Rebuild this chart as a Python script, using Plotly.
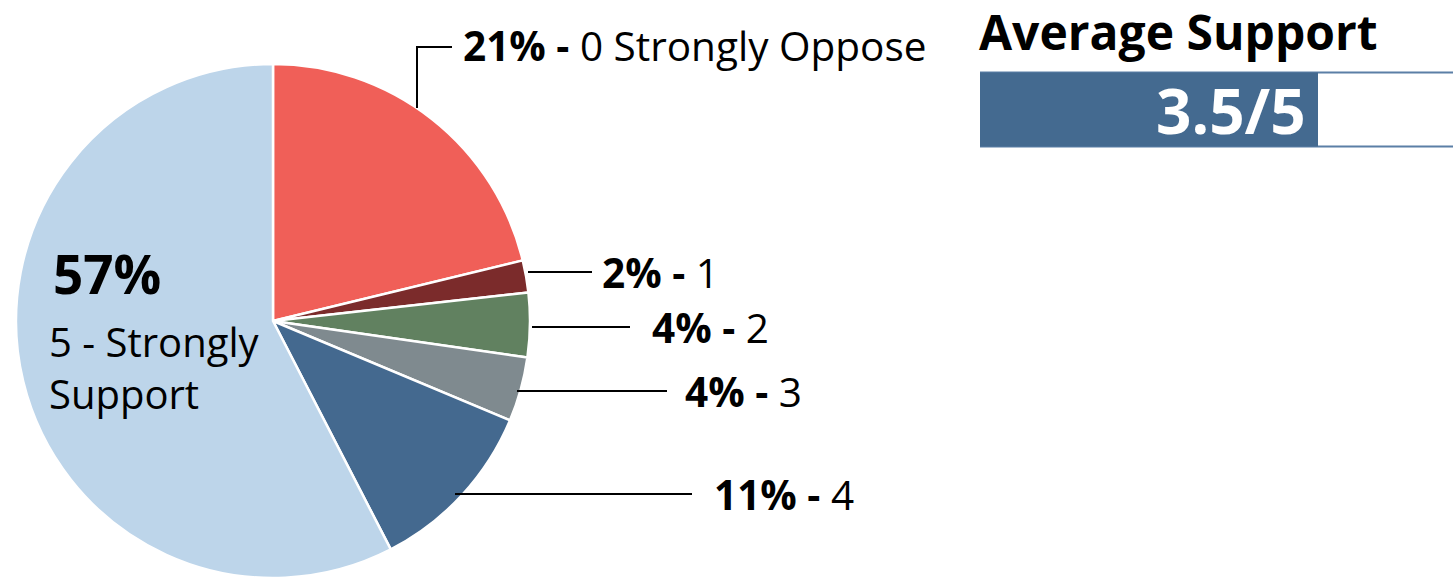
import plotly.graph_objects as go

# Survey responses on a 0-5 support scale
categories = ["0 Strongly Oppose", "1", "2", "3", "4", "5 - Strongly Support"]
shares = [21, 2, 4, 4, 11, 57]
slice_colors = ["#F05F58", "#7B2B2B", "#618160", "#7F8A8F", "#44698F", "#BDD5EA"]

avg_score = 3.5
max_score = 5
avg_title = "Average Support"

W, H = 1453, 579
FONT = "Open Sans"


def px(x):
    return x / W


def py(y):
    return 1 - y / H


fig = go.Figure()

# Pie, starting at 12 o'clock and running clockwise
fig.add_trace(go.Pie(
    labels=categories,
    values=shares,
    sort=False,
    direction="clockwise",
    rotation=0,
    marker=dict(colors=slice_colors, line=dict(color="white", width=2.5)),
    textinfo="none",
    hoverinfo="label+percent",
    domain=dict(x=[px(16), px(530)], y=[py(578), py(64)]),
    showlegend=False,
))

# Average score bar: white outlined track with the filled score on top
track_px_per_unit = (1318 - 980) / avg_score
fig.add_trace(go.Bar(
    x=[max_score], y=[0], orientation="h", width=1,
    marker=dict(color="white", line=dict(color="#5B7FA6", width=1.8)),
    xaxis="x", yaxis="y", hoverinfo="skip", showlegend=False,
))
fig.add_trace(go.Bar(
    x=[avg_score], y=[0], orientation="h", width=1,
    marker=dict(color="#446A90", line=dict(width=0)),
    xaxis="x", yaxis="y", hoverinfo="skip", showlegend=False,
))

annotations = []
shapes = []

# Outside labels with leader lines for the right-hand slices
label_pos = {
    0: dict(tx=461, ty=45),
    1: dict(tx=600, ty=272),
    2: dict(tx=650, ty=327),
    3: dict(tx=683, ty=391),
    4: dict(tx=712, ty=494),
}
leaders = {
    0: [(417, 108), (417, 47), (452, 47)],
    1: [(528, 272), (592, 272)],
    2: [(532, 327), (630, 327)],
    3: [(517, 391), (667, 391)],
    4: [(455, 494), (692, 494)],
}
for i, pos in label_pos.items():
    annotations.append(dict(
        x=px(pos["tx"]), y=py(pos["ty"]), xref="paper", yref="paper",
        xanchor="left", yanchor="middle", showarrow=False,
        text=f"<b>{shares[i]}% -</b> {categories[i]}",
        font=dict(family=FONT, size=40.5, color="black"),
    ))
    pts = leaders[i]
    path = "M " + " L ".join(f"{px(x)},{py(y)}" for x, y in pts)
    shapes.append(dict(type="path", xref="paper", yref="paper", path=path,
                       line=dict(color="black", width=2)))

# Label inside the largest slice
annotations.append(dict(
    x=px(51), y=py(273), xref="paper", yref="paper",
    xanchor="left", yanchor="middle", showarrow=False,
    text=f"<b>{shares[5]}%</b>",
    font=dict(family=FONT, size=53, color="black"),
))
annotations.append(dict(
    x=px(47), y=py(367), xref="paper", yref="paper",
    xanchor="left", yanchor="middle", showarrow=False, align="left",
    text=categories[5].replace("Strongly ", "Strongly<br>"),
    font=dict(family=FONT, size=40, color="black"),
))

# Average score heading and value
annotations.append(dict(
    x=px(977), y=py(31), xref="paper", yref="paper",
    xanchor="left", yanchor="middle", showarrow=False,
    text=f"<b>{avg_title}</b>",
    font=dict(family=FONT, size=48, color="black"),
))
annotations.append(dict(
    x=avg_score, y=0, xref="x", yref="y",
    xanchor="right", yanchor="middle", showarrow=False, xshift=-10,
    text=f"<b>{avg_score}/{max_score}</b>",
    font=dict(family=FONT, size=62, color="white"),
))

fig.update_layout(
    width=W, height=H,
    margin=dict(l=0, r=0, t=0, b=0),
    paper_bgcolor="white", plot_bgcolor="rgba(0,0,0,0)",
    barmode="overlay",
    xaxis=dict(domain=[px(980), 1], range=[0, (W - 980) / track_px_per_unit],
               visible=False, fixedrange=True),
    yaxis=dict(domain=[py(148), py(71)], range=[-0.52, 0.52],
               visible=False, fixedrange=True),
    annotations=annotations,
    shapes=shapes,
)

fig.write_html("out.html")
